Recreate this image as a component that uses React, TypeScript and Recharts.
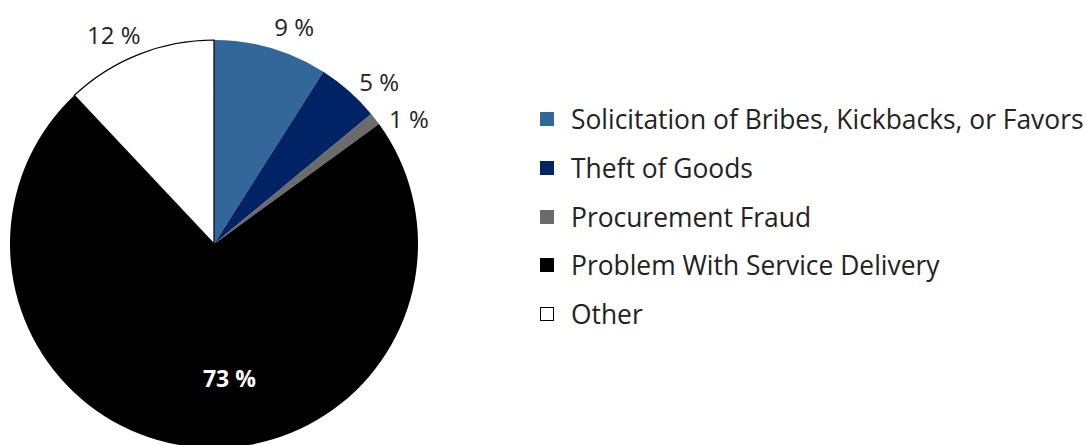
import { Cell, Legend, Pie, PieChart } from "recharts";

const categories = [
  "Solicitation of Bribes, Kickbacks, or Favors",
  "Theft of Goods",
  "Procurement Fraud",
  "Problem With Service Delivery",
  "Other",
];
const shares = [9, 5, 1, 73, 12];
const colors = ["#336699", "#002366", "#6b6b6b", "#000000", "#ffffff"];

const data = categories.map((name, i) => ({ name, value: shares[i] }));

const FONT = "'Open Sans', Lato, sans-serif";
const RAD = Math.PI / 180;

// nudge labels away from slice middle a bit, like the original
const labelNudge = [4, 4, 5, -12, -4];

function renderLabel(props: any) {
  const { cx, cy, midAngle, outerRadius, index, value } = props;
  const inside = value > 50;
  const r = inside ? outerRadius * 0.66 : outerRadius + 28;
  const a = (midAngle - labelNudge[index]) * RAD;
  const x = cx + r * Math.cos(-a);
  const y = cy + r * Math.sin(-a);
  return (
    <text
      x={x}
      y={y}
      textAnchor="middle"
      dominantBaseline="central"
      fill={inside ? "#ffffff" : "#222"}
      fontFamily={FONT}
      fontWeight={inside ? 700 : 400}
      fontSize={inside ? 23 : 24}
    >
      {value} %
    </text>
  );
}

function LegendBox() {
  return (
    <div style={{ fontFamily: FONT, fontSize: 26.4, color: "#222" }}>
      {categories.map((name, i) => (
        <div
          key={name}
          style={{ display: "flex", alignItems: "center", height: 48.7 }}
        >
          <span
            style={{
              display: "inline-block",
              width: 12,
              height: 12,
              background: colors[i],
              border: i === 4 ? "1px solid #000" : "1px solid " + colors[i],
              marginRight: 17,
            }}
          />
          <span style={{ whiteSpace: "nowrap" }}>{name}</span>
        </div>
      ))}
    </div>
  );
}

export default function App() {
  return (
    <div style={{ position: "absolute", left: 0, top: 0, background: "#fff" }}>
      <PieChart
        width={1086}
        height={445}
        margin={{ top: 0, right: 0, bottom: 0, left: 0 }}
      >
        <Pie
          data={data}
          dataKey="value"
          nameKey="name"
          cx={214}
          cy={244}
          outerRadius={204}
          startAngle={90}
          endAngle={-270}
          label={renderLabel}
          labelLine={false}
          isAnimationActive={false}
        >
          {data.map((d, i) => (
            <Cell
              key={d.name}
              fill={colors[i]}
              stroke={i === 4 ? "#000" : "none"}
              strokeWidth={i === 4 ? 1.2 : 0}
            />
          ))}
        </Pie>
        <Legend
          layout="vertical"
          verticalAlign="middle"
          align="right"
          wrapperStyle={{ left: 540, top: 95, width: 546, right: "auto" }}
          content={<LegendBox />}
        />
      </PieChart>
    </div>
  );
}
